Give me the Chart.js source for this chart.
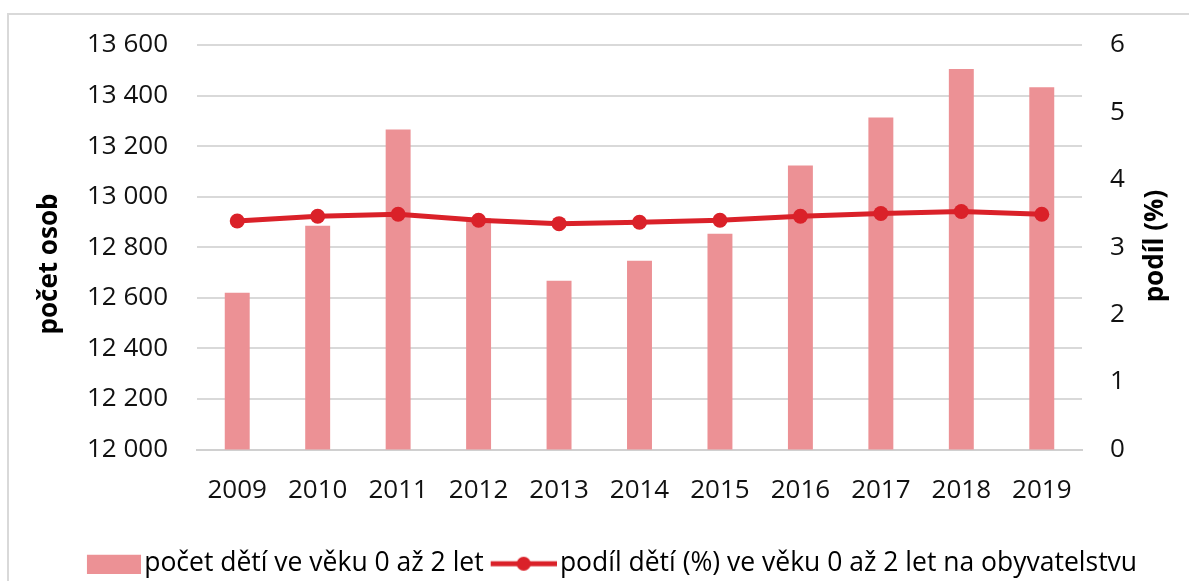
<!DOCTYPE html>
<html>
<head>
<meta charset="utf-8">
<script src="https://cdn.jsdelivr.net/npm/chart.js@4"></script>
<style>
  html, body { margin: 0; padding: 0; background: #fff; overflow: hidden; }
  #wrap { position: relative; width: 1189px; height: 581px; overflow: hidden; }
  #frame { position: absolute; left: 7px; top: 13px; width: 1300px; height: 700px; border: 2px solid #d9d9d9; }
  #chart { position: absolute; left: 0; top: 0; }
</style>
</head>
<body>
<div id="wrap">
  <div id="frame"></div>
  <canvas id="chart" width="1189" height="587"></canvas>
</div>
<script>
const years = ["2009", "2010", "2011", "2012", "2013", "2014", "2015", "2016", "2017", "2018", "2019"];
const childrenCount = [12620, 12885, 13266, 12915, 12667, 12747, 12853, 13123, 13313, 13505, 13433];
const childrenShare = [3.39, 3.46, 3.49, 3.40, 3.35, 3.37, 3.40, 3.46, 3.50, 3.53, 3.49];

const barColor = "rgb(236, 145, 149)";
const lineColor = "rgb(218, 33, 41)";
const font = "'Open Sans', 'Noto Sans', sans-serif";

function formatThousands(value) {
  return String(value).replace(/\B(?=(\d{3})+(?!\d))/g, " ");
}

// legend icons like Excel's; content sits at the right end of the image
// so it ends right before the label text
const ICON_W = 79;
function makeBarIcon() {
  const c = document.createElement("canvas");
  c.width = ICON_W; c.height = 20;
  const ctx = c.getContext("2d");
  ctx.fillStyle = barColor;
  ctx.fillRect(ICON_W - 54, 1, 54, 19);
  return c;
}
function makeLineIcon() {
  const c = document.createElement("canvas");
  c.width = ICON_W; c.height = 20;
  const ctx = c.getContext("2d");
  ctx.strokeStyle = lineColor;
  ctx.lineWidth = 5;
  ctx.beginPath();
  ctx.moveTo(13, 10); ctx.lineTo(ICON_W, 10);
  ctx.stroke();
  ctx.fillStyle = lineColor;
  ctx.beginPath();
  ctx.arc(13 + 33, 10, 7, 0, Math.PI * 2);
  ctx.fill();
  return c;
}
const barIcon = makeBarIcon();
const lineIcon = makeLineIcon();

// axis titles placed like in the original (right one reads bottom-up too)
const axisTitles = {
  id: "axisTitles",
  afterDraw(chart) {
    const c = chart.ctx;
    c.save();
    c.fillStyle = "#000";
    c.font = "bold 26px " + font;
    c.textAlign = "center";
    c.textBaseline = "middle";
    c.translate(50, 264);
    c.rotate(-Math.PI / 2);
    c.fillText("počet osob", 0, 0);
    c.restore();
    c.save();
    c.fillStyle = "#000";
    c.font = "bold 26px " + font;
    c.textAlign = "center";
    c.textBaseline = "middle";
    c.translate(1156, 246);
    c.rotate(-Math.PI / 2);
    c.fillText("podíl (%)", 0, 0);
    c.restore();
  }
};

const ctx = document.getElementById("chart");

new Chart(ctx, {
  data: {
    labels: years,
    datasets: [
      {
        type: "line",
        label: "podíl dětí (%) ve věku 0 až 2 let na obyvatelstvu",
        data: childrenShare,
        yAxisID: "y1",
        borderColor: lineColor,
        backgroundColor: lineColor,
        borderWidth: 5,
        pointRadius: 7.5,
        pointBackgroundColor: lineColor,
        pointBorderWidth: 0,
        tension: 0,
        order: 0
      },
      {
        type: "bar",
        label: "počet dětí ve věku 0 až 2 let",
        data: childrenCount,
        yAxisID: "y",
        backgroundColor: barColor,
        barPercentage: 0.31,
        categoryPercentage: 1,
        order: 1
      }
    ]
  },
  options: {
    responsive: false,
    animation: false,
    layout: { padding: { top: 45, left: 20, right: 0, bottom: 0 } },
    plugins: {
      tooltip: { enabled: false },
      legend: {
        position: "bottom",
        labels: {
          font: { family: font, size: 26.5 },
          color: "#111",
          padding: 4,
          usePointStyle: true,
          pointStyleWidth: 59,
          generateLabels: () => [
            { text: "počet dětí ve věku 0 až 2 let", pointStyle: barIcon, fillStyle: barColor, strokeStyle: barColor, lineWidth: 0, datasetIndex: 1 },
            { text: "podíl dětí (%) ve věku 0 až 2 let na obyvatelstvu", pointStyle: lineIcon, fillStyle: lineColor, strokeStyle: lineColor, lineWidth: 0, datasetIndex: 0 }
          ]
        }
      }
    },
    scales: {
      x: {
        grid: { display: false, drawTicks: false },
        border: { display: true, color: "#d0d0d0", width: 2 },
        ticks: { font: { family: font, size: 26 }, color: "#111", padding: 25, maxRotation: 0 },
        afterFit: (scale) => { scale.height = 97; }
      },
      y: {
        position: "left",
        min: 12000,
        max: 13600,
        grid: { color: "#d9d9d9", lineWidth: 2, drawTicks: false },
        border: { display: false },
        ticks: {
          stepSize: 200,
          font: { family: font, size: 26 },
          color: "#111",
          padding: 29,
          callback: (v) => formatThousands(v)
        },
        afterFit: (scale) => { scale.width = 177; }
      },
      y1: {
        position: "right",
        min: 0,
        max: 6,
        grid: { display: false, drawTicks: false },
        border: { display: false },
        ticks: {
          stepSize: 1,
          font: { family: font, size: 26 },
          color: "#111",
          padding: 28
        },
        afterFit: (scale) => { scale.width = 107; }
      }
    }
  },
  plugins: [axisTitles]
});
</script>
</body>
</html>
